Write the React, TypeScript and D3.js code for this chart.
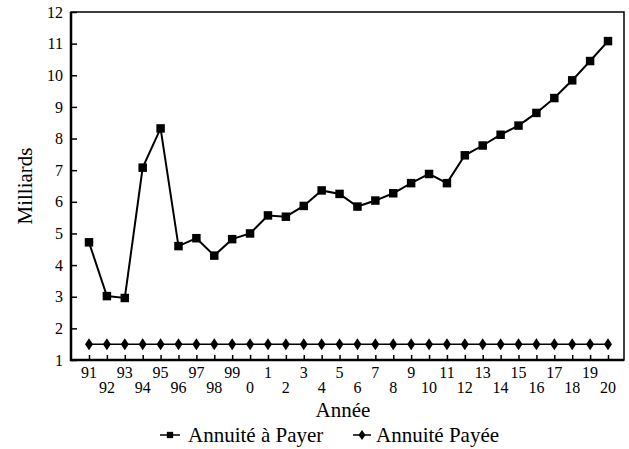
import React from "react";
import * as d3 from "d3";

const years = ["91", "92", "93", "94", "95", "96", "97", "98", "99", "0", "1", "2", "3", "4", "5", "6", "7", "8", "9", "10", "11", "12", "13", "14", "15", "16", "17", "18", "19", "20"];
const aPayer = [4.72, 3.02, 2.96, 7.08, 8.32, 4.6, 4.85, 4.3, 4.82, 5.0, 5.57, 5.53, 5.87, 6.36, 6.25, 5.85, 6.04, 6.27, 6.59, 6.88, 6.59, 7.47, 7.78, 8.12, 8.41, 8.81, 9.28, 9.84, 10.45, 11.08];
const payee = [1.5, 1.5, 1.5, 1.5, 1.5, 1.5, 1.5, 1.5, 1.5, 1.5, 1.5, 1.5, 1.5, 1.5, 1.5, 1.5, 1.5, 1.5, 1.5, 1.5, 1.5, 1.5, 1.5, 1.5, 1.5, 1.5, 1.5, 1.5, 1.5, 1.5];
const yTicks = [1, 2, 3, 4, 5, 6, 7, 8, 9, 10, 11, 12];

const FONT = "Liberation Serif";

const App = () => {
  const svgRef = React.useRef<SVGSVGElement>(null);
  const width = 629;
  const height = 449;
  const frame = { left: 71, right: 624, top: 12, bottom: 360 };

  React.useEffect(() => {
    const x = d3.scalePoint<string>().domain(years).range([89, 608]);
    const y = d3.scaleLinear().domain([1, 12]).range([frame.bottom, frame.top]);

    const svg = d3.select(svgRef.current);
    svg.selectAll("*").remove(); // start clean

    // frame: left/bottom heavier than top/right
    svg
      .append("rect")
      .attr("x", frame.left)
      .attr("y", frame.top)
      .attr("width", frame.right - frame.left)
      .attr("height", frame.bottom - frame.top)
      .attr("fill", "none")
      .attr("stroke", "#000")
      .attr("stroke-width", 1.5);
    svg
      .append("path")
      .attr("d", `M${frame.left},${frame.top}V${frame.bottom}H${frame.right}`)
      .attr("fill", "none")
      .attr("stroke", "#000")
      .attr("stroke-width", 2.5);

    // y ticks (inward) + labels
    const yAxis = d3.axisLeft(y).tickValues(yTicks).tickSize(-6).tickPadding(8).tickFormat(d3.format("d"));
    const yg = svg.append("g").attr("transform", `translate(${frame.left},0)`).call(yAxis);
    yg.select(".domain").remove();
    yg.selectAll("line").attr("stroke", "#000").attr("stroke-width", 1.5);
    yg.selectAll("text")
      .style("font-family", FONT)
      .style("font-size", "16px")
      .attr("fill", "#000");

    // x ticks (inward)
    const xAxis = d3.axisBottom(x).tickSize(-5).tickFormat(() => "");
    const xg = svg.append("g").attr("transform", `translate(0,${frame.bottom})`).call(xAxis);
    xg.select(".domain").remove();
    xg.selectAll("line").attr("stroke", "#000").attr("stroke-width", 1.5);

    // staggered x labels
    svg
      .append("g")
      .selectAll("text")
      .data(years)
      .enter()
      .append("text")
      .attr("x", (d) => x(d)!)
      .attr("y", (_, i) => (i % 2 === 0 ? 378 : 393))
      .attr("text-anchor", "middle")
      .style("font-family", FONT)
      .style("font-size", "16px")
      .text((d) => d);

    // axis titles
    svg
      .append("text")
      .attr("x", 343)
      .attr("y", 417)
      .attr("text-anchor", "middle")
      .style("font-family", FONT)
      .style("font-size", "21px")
      .text("Année");
    svg
      .append("text")
      .attr("transform", `translate(32,186) rotate(-90)`)
      .attr("text-anchor", "middle")
      .style("font-family", FONT)
      .style("font-size", "21px")
      .text("Milliards");

    const line = d3
      .line<number>()
      .x((_, i) => x(years[i])!)
      .y((d) => y(d));

    const square = d3.symbol().type(d3.symbolSquare).size(72);
    const diamond = "M0,-6L4,0L0,6L-4,0Z";

    // Annuité Payée
    svg
      .append("path")
      .attr("d", line(payee))
      .attr("fill", "none")
      .attr("stroke", "#000")
      .attr("stroke-width", 1.5);
    svg
      .append("g")
      .selectAll("path")
      .data(payee)
      .enter()
      .append("path")
      .attr("d", diamond)
      .attr("transform", (d, i) => `translate(${x(years[i])},${y(d)})`)
      .attr("fill", "#000");

    // Annuité à Payer
    svg
      .append("path")
      .attr("d", line(aPayer))
      .attr("fill", "none")
      .attr("stroke", "#000")
      .attr("stroke-width", 2);
    svg
      .append("g")
      .selectAll("path")
      .data(aPayer)
      .enter()
      .append("path")
      .attr("d", square()!)
      .attr("transform", (d, i) => `translate(${x(years[i])},${y(d)})`)
      .attr("fill", "#000");

    // legend
    const lg = svg.append("g").attr("transform", "translate(0,435)");
    lg.append("line").attr("x1", 160).attr("x2", 180).attr("stroke", "#000").attr("stroke-width", 1.5);
    lg.append("path").attr("d", d3.symbol().type(d3.symbolSquare).size(40)()!).attr("transform", "translate(170,0)");
    lg.append("text")
      .attr("x", 188)
      .attr("y", 7)
      .style("font-family", FONT)
      .style("font-size", "21px")
      .text("Annuité à Payer");
    lg.append("line").attr("x1", 353).attr("x2", 371).attr("stroke", "#000").attr("stroke-width", 1.5);
    lg.append("path").attr("d", "M0,-5L3.5,0L0,5L-3.5,0Z").attr("transform", "translate(362,0)");
    lg.append("text")
      .attr("x", 376)
      .attr("y", 7)
      .style("font-family", FONT)
      .style("font-size", "21px")
      .text("Annuité Payée");
  }, []);

  return (
    <svg
      ref={svgRef}
      width={width}
      height={height}
      style={{ position: "absolute", left: 0, top: 0, background: "#fff" }}
    />
  );
};

export default App;
